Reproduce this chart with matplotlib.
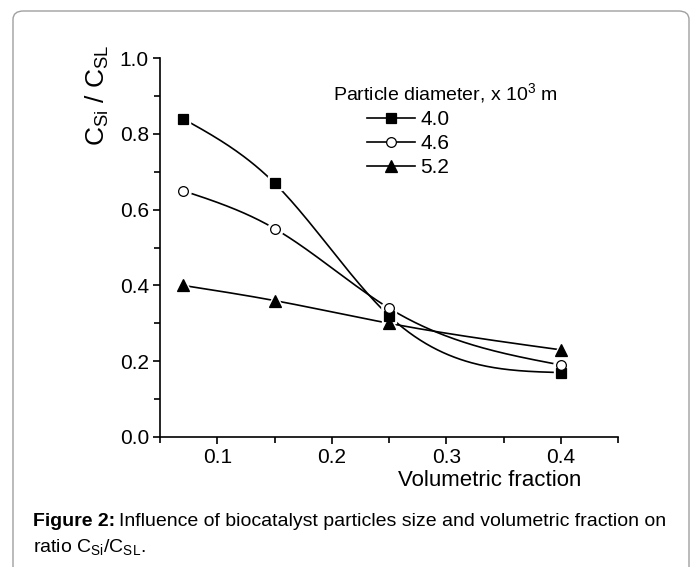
import numpy as np
import matplotlib
matplotlib.use("Agg")
import matplotlib.pyplot as plt
from matplotlib import font_manager
from matplotlib.patches import FancyBboxPatch
from matplotlib.lines import Line2D

# ---- data ----
x_frac = [0.07, 0.15, 0.25, 0.40]
c_40 = [0.84, 0.67, 0.32, 0.17]
c_46 = [0.65, 0.55, 0.34, 0.19]
c_52 = [0.40, 0.36, 0.30, 0.23]
series_labels = ["4.0", "4.6", "5.2"]
x_ticks = [0.1, 0.2, 0.3, 0.4]
y_ticks = [0.0, 0.2, 0.4, 0.6, 0.8, 1.0]

names = {f.name for f in font_manager.fontManager.ttflist}
fam = "Liberation Sans Narrow" if "Liberation Sans Narrow" in names else "Liberation Sans"
plt.rcParams["font.family"] = [fam, "DejaVu Sans"]
plt.rcParams["mathtext.fontset"] = "custom"
plt.rcParams["mathtext.rm"] = fam
plt.rcParams["mathtext.it"] = fam + ":italic"
plt.rcParams["mathtext.bf"] = fam + ":bold"


def natural_spline(x, y, n=200):
    x = np.asarray(x, float); y = np.asarray(y, float)
    k = len(x)
    h = np.diff(x)
    s = np.diff(y) / h
    A = np.zeros((k, k)); b = np.zeros(k)
    A[0, 0] = 1; A[-1, -1] = 1
    for i in range(1, k - 1):
        A[i, i - 1] = h[i - 1]
        A[i, i] = 2 * (h[i - 1] + h[i])
        A[i, i + 1] = h[i]
        b[i] = 6 * (s[i] - s[i - 1])
    M = np.linalg.solve(A, b)
    xs = np.linspace(x[0], x[-1], n)
    idx = np.clip(np.searchsorted(x, xs) - 1, 0, k - 2)
    xi, xj = x[idx], x[idx + 1]
    hi = xj - xi
    t1 = xj - xs; t2 = xs - xi
    ys = (M[idx] * t1**3 + M[idx + 1] * t2**3) / (6 * hi) \
        + (y[idx] / hi - M[idx] * hi / 6) * t1 \
        + (y[idx + 1] / hi - M[idx + 1] * hi / 6) * t2
    return xs, ys


fig = plt.figure(figsize=(6.95, 5.67), dpi=100)
ax = fig.add_axes([160 / 695, 1 - 437 / 567, 458 / 695, 379 / 567])

styles = [
    dict(marker="s", mfc="black", ms=6.5),
    dict(marker="o", mfc="white", ms=7),
    dict(marker="^", mfc="black", ms=8.5),
]
handles = []
for yv, st, lab in zip([c_40, c_46, c_52], styles, series_labels):
    xs, ys = natural_spline(x_frac, yv)
    ax.plot(xs, ys, color="black", lw=1.2, zorder=2)
    ax.plot(x_frac, yv, linestyle="none", marker=st["marker"], ms=st["ms"] + 4,
            mfc="white", mec="white", zorder=3)
    ax.plot(x_frac, yv, linestyle="none", marker=st["marker"], ms=st["ms"],
            mfc=st["mfc"], mec="black", mew=0.9, zorder=4)
    handles.append(Line2D([], [], color="black", lw=1.2, marker=st["marker"],
                          ms=st["ms"], mfc=st["mfc"], mec="black", mew=0.9))

ax.set_xlim(0.05, 0.45)
ax.set_ylim(0.0, 1.0)
ax.set_xticks(x_ticks)
ax.set_xticks([0.05, 0.15, 0.25, 0.35, 0.45], minor=True)
ax.set_yticks(y_ticks)
ax.set_yticks([0.1, 0.3, 0.5, 0.7, 0.9], minor=True)
ax.set_xticklabels([f"{v:.1f}" for v in x_ticks])
ax.set_yticklabels([f"{v:.1f}" for v in y_ticks])
for sp in ["top", "right"]:
    ax.spines[sp].set_visible(False)
for sp in ["left", "bottom"]:
    ax.spines[sp].set_linewidth(1.2)
ax.tick_params(which="major", direction="out", length=5, width=1.2, labelsize=15, pad=3)
ax.tick_params(which="minor", direction="out", length=4, width=1.2)

fig.text(97 / 695, 1 - 95 / 567, r"C$_{\mathrm{Si}}$ / C$_{\mathrm{SL}}$",
         rotation=90, ha="center", va="center", fontsize=19)
fig.text(490 / 695, 1 - 481 / 567, "Volumetric fraction", ha="center",
         va="center", fontsize=16)

fig.text(333 / 695, 1 - 93 / 567, r"Particle diameter, x 10$^{3}$ m",
         ha="left", va="center", fontsize=14)
leg = fig.legend(handles=handles, labels=series_labels, loc="upper left",
                 bbox_to_anchor=(367 / 695, 1 - 110 / 567), frameon=False,
                 fontsize=15, handlelength=2.3, handletextpad=0.25,
                 labelspacing=0.25, borderpad=0, borderaxespad=0)

cap_size = 14
t1 = fig.text(33 / 695, 1 - 522 / 567, "Figure 2:", fontweight="bold",
              ha="left", va="center", fontsize=cap_size)
fig.canvas.draw()
bb = t1.get_window_extent(renderer=fig.canvas.get_renderer())
fig.text(bb.x1 / fig.bbox.width + 4 / 695, 1 - 522 / 567,
         "Influence of biocatalyst particles size and volumetric fraction on",
         ha="left", va="center", fontsize=cap_size)
fig.text(33 / 695, 1 - 547 / 567,
         r"ratio C$_{\mathrm{Si}}$/C$_{\mathrm{SL}}$.",
         ha="left", va="center", fontsize=cap_size)

border = FancyBboxPatch((13 / 695, -0.05), (689 - 13) / 695, 1.05 - 11 / 567,
                        boxstyle="round,pad=0,rounding_size=0.015",
                        transform=fig.transFigure, fill=False,
                        edgecolor="#a0a0a0", lw=1.0, clip_on=False)
fig.patches.append(border)

fig.savefig("out.png", dpi=100)
